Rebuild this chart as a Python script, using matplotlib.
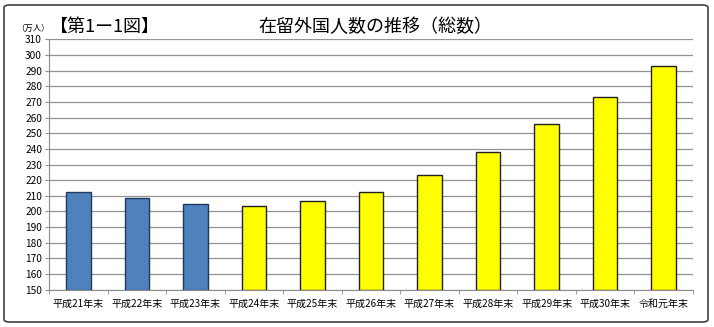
import matplotlib
matplotlib.use("Agg")
import matplotlib.pyplot as plt
from matplotlib.patches import FancyBboxPatch
import numpy as np

plt.rcParams['font.family'] = ['Noto Sans CJK JP', 'DejaVu Sans']

categories = ["平成21年末", "平成22年末", "平成23年末", "平成24年末", "平成25年末",
              "平成26年末", "平成27年末", "平成28年末", "平成29年末", "平成30年末", "令和元年末"]
values = [212.6, 208.7, 204.7, 203.4, 206.6, 212.2, 223.2, 238.3, 256.2, 273.1, 293.3]
yticks = list(range(150, 311, 10))

fig = plt.figure(figsize=(7.14, 3.27), dpi=100)
fig.patch.set_facecolor("white")
border = FancyBboxPatch((4/714, 5/327), 704/714, 317/327,
                        boxstyle="round,pad=0,rounding_size=0.008",
                        transform=fig.transFigure, fill=False,
                        edgecolor="#404040", linewidth=1.2)
fig.patches.append(border)

ax = fig.add_axes([49/714, 1-289.6/327, 644/714, (289.6-39.4)/327])
x = np.arange(len(categories))
colors = ["#4F81BD"]*3 + ["#FFFF00"]*8
edges = ["#1F3A60"]*3 + ["#202020"]*8
ax.bar(x, [v-150 for v in values], bottom=150, width=0.42, color=colors,
       edgecolor=edges, linewidth=1.0, zorder=3)
ax.set_xlim(-0.5, len(categories)-0.5)
ax.set_ylim(150, 310)
ax.set_yticks(yticks)
ax.set_yticklabels([str(t) for t in yticks], fontsize=7.3)
ax.yaxis.grid(True, color="#939393", linewidth=0.9)
ax.set_axisbelow(True)
ax.set_xticks(x)
ax.set_xticklabels(categories, fontsize=7.2)
ax.set_xticks(np.arange(-0.5, len(categories)), minor=True)
ax.tick_params(axis='x', which='major', length=0, pad=7)
ax.tick_params(axis='x', which='minor', length=3, color="#8c8c8c")
ax.tick_params(axis='y', length=3, color="#8c8c8c", pad=2)
for s in ["top", "right"]:
    ax.spines[s].set_visible(False)
ax.spines["left"].set_color("#8c8c8c")
ax.spines["bottom"].set_color("#8c8c8c")

fig.text(16/714, 1-28/327, "（万人）", fontsize=6.0, va="center", ha="left")
fig.text(50/714, 1-27/327, "【第1ー1図】", fontsize=13, va="center", ha="left")
fig.text(375/714, 1-27/327, "在留外国人数の推移（総数）", fontsize=13, va="center", ha="center")

fig.savefig("out.png", dpi=100)
